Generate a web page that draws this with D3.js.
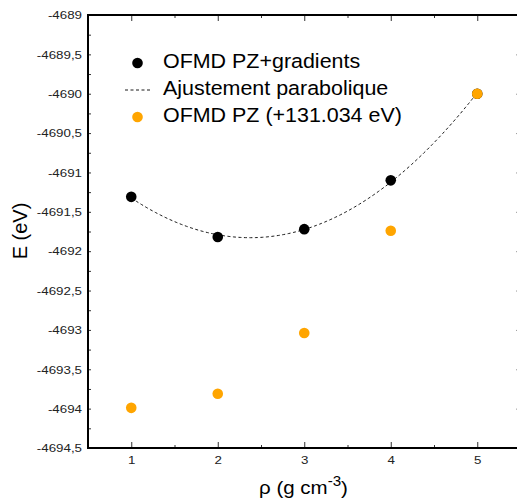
<!DOCTYPE html>
<html><head><meta charset="utf-8">
<script src="https://cdn.jsdelivr.net/npm/d3@7"></script>
<style>body{margin:0;background:#fff;} svg{display:block;font-family:"Liberation Sans",Arial,sans-serif;}</style>
</head><body>
<svg id="c" width="517" height="504"></svg>
<script>
const densities = [1, 2, 3, 4, 5];
const energyGradients = [-4691.31, -4691.82, -4691.72, -4691.10, -4690.00];
const energyPZShifted = [-4693.99, -4693.81, -4693.04, -4691.74, -4690.00];
const yTicks = [-4689, -4689.5, -4690, -4690.5, -4691, -4691.5, -4692, -4692.5, -4693, -4693.5, -4694, -4694.5];
const xTicks = [1, 2, 3, 4, 5];
const legendLabels = ["OFMD PZ+gradients", "Ajustement parabolique", "OFMD PZ (+131.034 eV)"];

const svg = d3.select("#c");
const L = 88, R = 520.5, T = 15, B = 448;
const x = d3.scaleLinear().domain([0.5, 5.5]).range([L, R]);
const y = d3.scaleLinear().domain([-4694.5, -4689]).range([B, T]);
const fmt = v => String(v).replace(".", ",");
const SX = 1.13;

// quadratic least-squares fit of the gradients series
function quadFit(xs, ys) {
  const S = [0,0,0,0,0], Sy = [0,0,0];
  xs.forEach((xi, i) => { for (let k=0;k<5;k++) S[k]+=Math.pow(xi,k); for (let k=0;k<3;k++) Sy[k]+=ys[i]*Math.pow(xi,k); });
  const A = [[S[0],S[1],S[2],Sy[0]],[S[1],S[2],S[3],Sy[1]],[S[2],S[3],S[4],Sy[2]]];
  for (let i=0;i<3;i++){ for (let j=i+1;j<3;j++){ const f=A[j][i]/A[i][i]; for(let k=i;k<4;k++) A[j][k]-=f*A[i][k]; } }
  const c=[0,0,0];
  for (let i=2;i>=0;i--){ let s=A[i][3]; for(let k=i+1;k<3;k++) s-=A[i][k]*c[k]; c[i]=s/A[i][i]; }
  return c;
}
const coef = quadFit(densities, energyGradients);
const fitPts = d3.range(1, 5.0001, 0.02).map(v => [v, coef[0] + coef[1]*v + coef[2]*v*v]);

// axes
const g = svg.append("g");
const xb = g.append("g").attr("transform", `translate(0,${B})`)
  .call(d3.axisBottom(x).tickValues(xTicks).tickSize(-6).tickPadding(8).tickFormat(d3.format("d")));
g.append("g").attr("transform", `translate(0,${B})`)
  .call(d3.axisBottom(x).tickValues([1.5,2.5,3.5,4.5]).tickSize(-3).tickFormat(""));
g.append("g").attr("transform", `translate(0,${T})`)
  .call(d3.axisTop(x).tickValues(xTicks).tickSize(-6).tickFormat(""));
g.append("g").attr("transform", `translate(0,${T})`)
  .call(d3.axisTop(x).tickValues([1.5,2.5,3.5,4.5]).tickSize(-3).tickFormat(""));
const yl = g.append("g").attr("transform", `translate(${L},0)`)
  .call(d3.axisLeft(y).tickValues(yTicks).tickSize(-3).tickPadding(6).tickFormat(fmt));
g.append("g").attr("transform", `translate(${L},0)`)
  .call(d3.axisLeft(y).tickValues(d3.range(-4694.25, -4689, 0.5)).tickSize(-3).tickFormat(""));
g.append("g").attr("transform", `translate(${R},0)`)
  .call(d3.axisRight(y).tickValues(yTicks).tickSize(-4).tickFormat(""));
g.append("g").attr("transform", `translate(${R},0)`)
  .call(d3.axisRight(y).tickValues(d3.range(-4694.25, -4689, 0.5)).tickSize(-3).tickFormat(""));
g.selectAll(".domain").remove();
g.selectAll(".tick line").attr("stroke", "#333").attr("stroke-width", 1);
g.selectAll(".tick text").attr("font-size", 11.8).attr("fill", "#222").attr("font-family", "Liberation Sans, Arial, sans-serif");
yl.selectAll(".tick text").attr("x", -6 / SX).attr("transform", `scale(${SX},1)`);
xb.selectAll(".tick text").attr("transform", `scale(${SX},1)`);
svg.append("rect").attr("x", L).attr("y", T).attr("width", R - L).attr("height", B - T)
  .attr("fill", "none").attr("stroke", "#000").attr("stroke-width", 2);

// fit curve
svg.append("path").datum(fitPts)
  .attr("d", d3.line().x(d => x(d[0])).y(d => y(d[1])))
  .attr("fill", "none").attr("stroke", "#000").attr("stroke-width", 0.9).attr("stroke-dasharray", "3,2.5");

// points
svg.append("g").selectAll("circle").data(densities).join("circle")
  .attr("cx", d => x(d)).attr("cy", (d,i) => y(energyGradients[i])).attr("r", 5.3).attr("fill", "#000");
svg.append("g").selectAll("circle").data(densities).join("circle")
  .attr("cx", d => x(d)).attr("cy", (d,i) => y(energyPZShifted[i])).attr("r", 5.3).attr("fill", "#FFA500");

// legend
const lg = svg.append("g").attr("font-size", 19.5).attr("fill", "#000");
const ly = [63, 90, 117];
lg.append("circle").attr("cx", 137.5).attr("cy", ly[0]).attr("r", 5.3).attr("fill", "#000");
lg.append("line").attr("x1", 125).attr("x2", 150).attr("y1", ly[1]).attr("y2", ly[1])
  .attr("stroke", "#000").attr("stroke-width", 0.9).attr("stroke-dasharray", "3,2.5");
lg.append("circle").attr("cx", 137.5).attr("cy", ly[2]).attr("r", 5.3).attr("fill", "#FFA500");
legendLabels.forEach((t, i) => lg.append("text")
  .attr("transform", `translate(163,${ly[i] + 4.5}) scale(1.1,1)`).text(t));

// axis titles
const xt = svg.append("text").attr("transform", "translate(303.5,494) scale(1.08,1)")
  .attr("text-anchor", "middle").attr("font-size", 19);
xt.append("tspan").text("ρ (g cm");
xt.append("tspan").attr("dy", -8.5).attr("font-size", 14).text("-3");
xt.append("tspan").attr("dy", 8.5).text(")");
svg.append("text").attr("transform", "translate(27,231) rotate(-90)").attr("text-anchor", "middle")
  .attr("font-size", 20).text("E (eV)");
</script>
</body></html>
